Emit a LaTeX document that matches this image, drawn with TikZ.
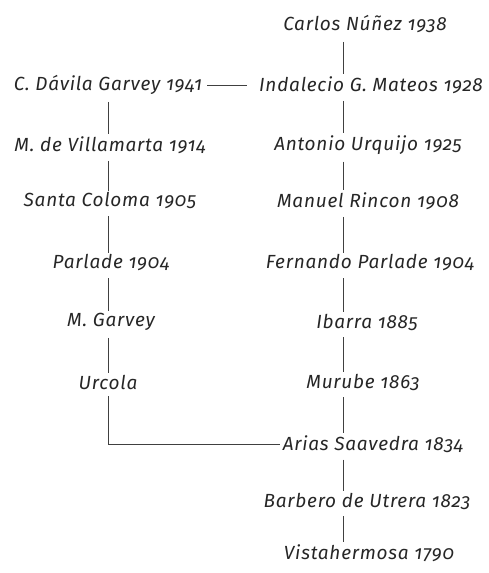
\documentclass[tikz,border=0pt]{standalone}
\usepackage{fontspec}
\setmainfont{Fira Sans}[Numbers=OldStyle, LetterSpace=4]
\begin{document}
\begin{tikzpicture}[x=1pt,y=-1pt,
  breed/.style={font=\fontsize{19}{22}\selectfont\itshape, text=black!85, inner sep=3pt},
  link/.style={draw=black!75, line width=0.9pt}]
\useasboundingbox (0,0) rectangle (489,573);
% right column
\node[breed] (carlos) at (365,24) {Carlos Núñez 1938};
\node[breed] (indalecio) at (371,85) {Indalecio G. Mateos 1928};
\node[breed] (antonio) at (368,145) {Antonio Urquijo 1925};
\node[breed] (rincon) at (368,201) {Manuel Rincon 1908};
\node[breed] (fparlade) at (370,263) {Fernando Parlade 1904};
\node[breed] (ibarra) at (367,322) {Ibarra 1885};
\node[breed] (murube) at (363,382) {Murube 1863};
\node[breed] (arias) at (373,444) {Arias Saavedra 1834};
\node[breed] (barbero) at (367,501) {Barbero de Utrera 1823};
\node[breed] (vista) at (369,553) {Vistahermosa 1790};
% left column
\node[breed] (davila) at (108,85) {C. Dávila Garvey 1941};
\node[breed] (villamarta) at (110,145) {M. de Villamarta 1914};
\node[breed] (coloma) at (110,201) {Santa Coloma 1905};
\node[breed] (parlade) at (111,263) {Parlade 1904};
\node[breed] (garvey) at (111,322) {M. Garvey};
\node[breed] (urcola) at (108,382) {Urcola};
% column axes
\coordinate (rx) at (343,0);
\coordinate (lx) at (108,0);
% right links
\draw[link] (carlos.south -| rx) ++(0,6) -- ([yshift=-1pt]indalecio.north -| rx);
\draw[link] (indalecio.south -| rx) ++(0,4) -- ([yshift=-1pt]antonio.north -| rx);
\draw[link] (antonio.south -| rx) ++(0,4) -- ([yshift=-1pt]rincon.north -| rx);
\draw[link] (rincon.south -| rx) ++(0,4) -- ([yshift=-1pt]fparlade.north -| rx);
\draw[link] (fparlade.south -| rx) ++(0,4) -- ([yshift=-1pt]ibarra.north -| rx);
\draw[link] (ibarra.south -| rx) ++(0,4) -- ([yshift=-1pt]murube.north -| rx);
\draw[link] (murube.south -| rx) ++(0,4) -- ([yshift=-1pt]arias.north -| rx);
\draw[link] (arias.south -| rx) ++(0,4) -- ([yshift=-1pt]barbero.north -| rx);
\draw[link] (barbero.south -| rx) ++(0,4) -- ([yshift=-1pt]vista.north -| rx);
% left links
\draw[link] (davila.south -| lx) ++(0,4) -- ([yshift=-1pt]villamarta.north -| lx);
\draw[link] (villamarta.south -| lx) ++(0,4) -- ([yshift=-1pt]coloma.north -| lx);
\draw[link] (coloma.south -| lx) ++(0,4) -- ([yshift=-1pt]parlade.north -| lx);
\draw[link] (parlade.south -| lx) ++(0,4) -- ([yshift=-1pt]garvey.north -| lx);
\draw[link] (garvey.south -| lx) ++(0,4) -- ([yshift=-1pt]urcola.north -| lx);
% cross links
\draw[link, shorten <=2pt, shorten >=9pt] (davila.east) -- (indalecio.west);
\draw[link, shorten <=4pt] (urcola.south) |- (arias.west);
\end{tikzpicture}
\end{document}
